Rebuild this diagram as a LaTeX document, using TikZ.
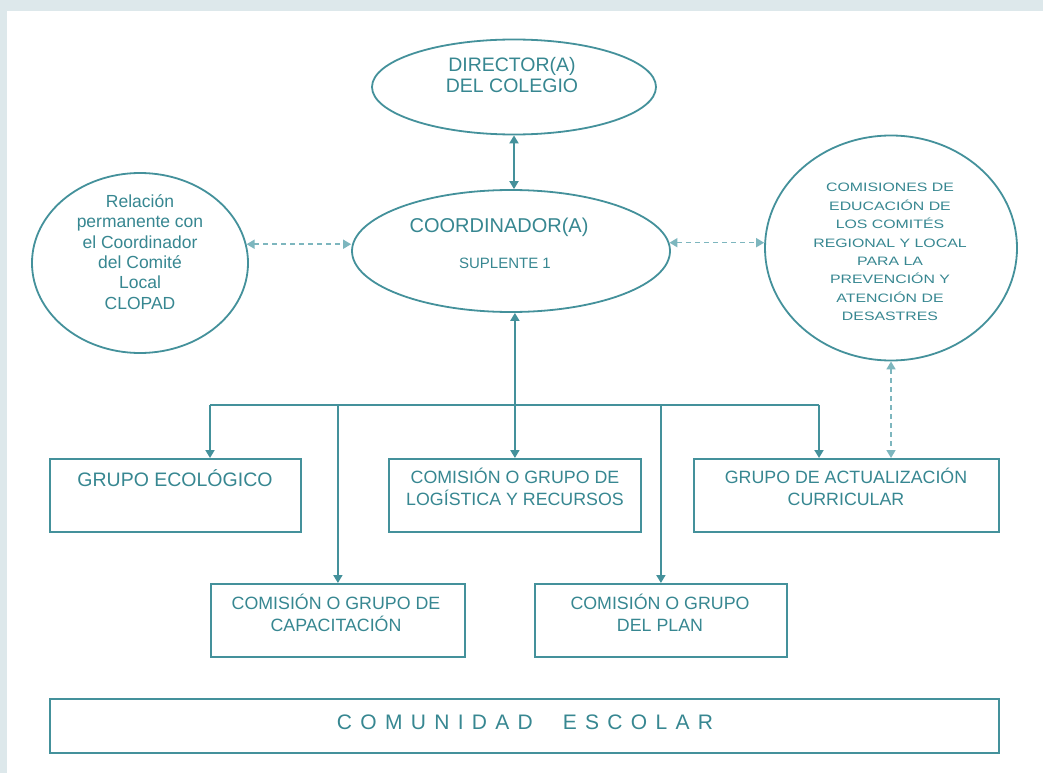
\documentclass[tikz,border=0pt]{standalone}
\usepackage{fontspec}
\setmainfont{Liberation Sans}
\newfontfamily\widefont[FakeStretch=1.3]{Liberation Sans}
\usetikzlibrary{arrows.meta,shapes.geometric}
\definecolor{teal1}{RGB}{68,145,155}
\definecolor{tealtxt}{RGB}{55,135,145}
\definecolor{teallt}{RGB}{125,182,190}
\definecolor{bgblue}{RGB}{221,232,235}
\newcommand\lsp{\hskip 8.3pt}
\begin{document}
\begin{tikzpicture}[x=1pt,y=-1pt,
  ov/.style={ellipse,draw=teal1,line width=1.8pt,inner sep=0pt},
  box/.style={rectangle,draw=teal1,line width=1.8pt,inner sep=0pt,anchor=north west},
  lbl/.style={text=tealtxt,align=center,inner sep=0pt},
  con/.style={draw=teal1,line width=1.8pt},
  tip/.style={-{Triangle[length=8pt,width=9pt]}},
  dtip/.style={{Triangle[length=8pt,width=9pt]}-{Triangle[length=8pt,width=9pt]}},
  dsh/.style={draw=teallt,line width=1.6pt,dash pattern=on 5pt off 4pt}
]
\useasboundingbox (0,0) rectangle (1043,773);
\fill[bgblue] (0,0) rectangle (1043,773);
\fill[white] (7,11) rectangle (1043,773);

% ovals
\node[ov,minimum width=284pt,minimum height=95pt] (dir) at (514,87) {};
\node[ov,minimum width=318pt,minimum height=122pt] (coord) at (511,251) {};
\node[ov,minimum width=216pt,minimum height=180pt] (lc) at (140,263) {};
\node[ov,minimum width=252pt,minimum height=225pt] (rc) at (891,248) {};

% boxes
\node[box,minimum width=251pt,minimum height=73pt] (eco) at (49,458) {};
\node[box,minimum width=252pt,minimum height=73pt] (log) at (388,458) {};
\node[box,minimum width=305pt,minimum height=73pt] (act) at (693,458) {};
\node[box,minimum width=254pt,minimum height=73pt] (cap) at (210,583) {};
\node[box,minimum width=252pt,minimum height=73pt] (plan) at (534,583) {};
\node[box,minimum width=949pt,minimum height=54pt] (com) at (49,698) {};

% texts
\node[lbl,font=\fontsize{19.5}{21.5}\selectfont] (dirtxt) at (512,75) {DIRECTOR(A)\\DEL COLEGIO};
\node[lbl,font=\fontsize{20}{22}\selectfont] (coordtxt) at (499,227) {COORDINADOR(A)};
\node[lbl,font=\fontsize{15}{17}\selectfont] (suptxt) at (505,263) {SUPLENTE 1};
\node[lbl,font=\fontsize{17.5}{20.4}\selectfont] (lctxt) at (140,252) {Relación\\permanente con\\el Coordinador\\del Comité\\Local\\CLOPAD};
\node[lbl,font=\widefont\fontsize{12.2}{18.4}\selectfont] (rctxt) at (890,252) {COMISIONES DE\\EDUCACIÓN DE\\LOS COMITÉS\\REGIONAL Y LOCAL\\PARA LA\\PREVENCIÓN Y\\ATENCIÓN DE\\DESASTRES};
\node[lbl,font=\fontsize{19.5}{21.5}\selectfont] (ecotxt) at (175,478.5) {GRUPO ECOLÓGICO};
\node[lbl,font=\fontsize{17.8}{21.5}\selectfont] (logtxt) at (515,487) {COMISIÓN O GRUPO DE\\LOGÍSTICA Y RECURSOS};
\node[lbl,font=\fontsize{17.8}{21.5}\selectfont] (acttxt) at (846,487) {GRUPO DE ACTUALIZACIÓN\\CURRICULAR};
\node[lbl,font=\fontsize{17.8}{21.5}\selectfont] (captxt) at (336,613) {COMISIÓN O GRUPO DE\\CAPACITACIÓN};
\node[lbl,font=\fontsize{17.8}{21.5}\selectfont] (plantxt) at (660,613) {COMISIÓN O GRUPO\\DEL PLAN};
\node[lbl,font=\fontsize{21}{24}\selectfont] (comtxt) at (525,722) {C\lsp O\lsp M\lsp U\lsp N\lsp I\lsp D\lsp A\lsp D\hskip 30pt E\lsp S\lsp C\lsp O\lsp L\lsp A\lsp R};

% connectors
\draw[con,dtip] (dir.south) -- (dir.south |- coord.north);
\draw[con,dtip] (coord.south -| log.north) -- (log.north);
\coordinate (busL) at (210,405);
\coordinate (busR) at (819,405);
\draw[con] (busL) -- (busR);
\draw[con,tip] (busL) -- (busL |- eco.north);
\draw[con,tip] (busR) -- (busR |- act.north);
\draw[con,tip] (cap.north |- busL) -- (cap.north);
\draw[con,tip] (plan.north |- busL) -- (plan.north);
\draw[dsh,dtip] (lc.10) -- (lc.10 -| coord.west);
\draw[dsh,dtip] (coord.3) -- (coord.3 -| rc.west);
\draw[dsh,dtip] (rc.south) -- (rc.south |- act.north);
\end{tikzpicture}
\end{document}
